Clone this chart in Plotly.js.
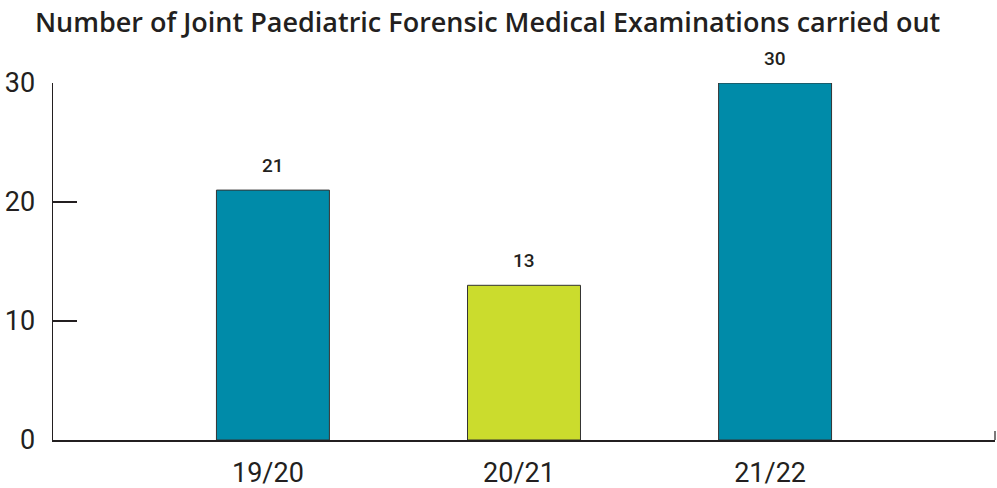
<!DOCTYPE html>
<html><head><meta charset="utf-8">
<script src="https://cdn.plot.ly/plotly-3.0.1.min.js"></script>
<style>html,body{margin:0;padding:0;background:#fff}#chart{width:997px;height:488px}</style>
</head><body><div id="chart"></div>
<script>
const categories = ["19/20", "20/21", "21/22"];
const values = [21, 13, 30];
const barColors = ["#008BA9", "#CBDC2D", "#008BA9"];
const yTickVals = [0, 10, 20, 30];
const titleText = "Number of Joint Paediatric Forensic Medical Examinations carried out";

const trace = {
  type: "bar", x: categories, y: values, width: 0.45,
  marker: {color: barColors, line: {color: "#333333", width: 1}},
  hoverinfo: "none"
};
const annotations = categories.map((c, i) => ({
  x: c, y: values[i], xref: "x", yref: "y", text: String(values[i]),
  showarrow: false, yshift: 25, font: {family: "Roboto, sans-serif", size: 19, color: "#231f20", weight: 500}
}));
const layout = {
  width: 997, height: 488,
  margin: {l: 53, r: 2, t: 83, b: 48},
  paper_bgcolor: "#fff", plot_bgcolor: "#fff",
  title: {text: titleText, x: 0.035, xanchor: "left", y: 0.953, yanchor: "middle",
    font: {family: "Open Sans, sans-serif", size: 27, color: "#231f20", weight: 600}},
  showlegend: false,
  bargap: 0,
  xaxis: {type: "category", range: [-0.876, 2.876], showline: true, linecolor: "#231f20", linewidth: 1.5,
    showgrid: false, zeroline: false, ticks: "", ticklabelstandoff: 8, ticklabelshift: -5,
    tickfont: {family: "Roboto, sans-serif", size: 27, color: "#231f20"},
    fixedrange: true},
  yaxis: {range: [0, 30], tickvals: yTickVals, showline: true, linecolor: "#231f20", linewidth: 1.5,
    showgrid: false, zeroline: false, ticks: "inside", ticklen: 24, tickwidth: 1.2, tickcolor: "#231f20",
    ticklabelstandoff: 11, tickfont: {family: "Roboto, sans-serif", size: 27, color: "#231f20"}, fixedrange: true},
  annotations: annotations,
  shapes: [{type: "line", xref: "paper", yref: "paper", x0: 1, x1: 1, y0: 0, y1: 0.025,
    line: {color: "#231f20", width: 1.2}}]
};
Plotly.newPlot("chart", [trace], layout, {displayModeBar: false, staticPlot: true});
</script></body></html>
